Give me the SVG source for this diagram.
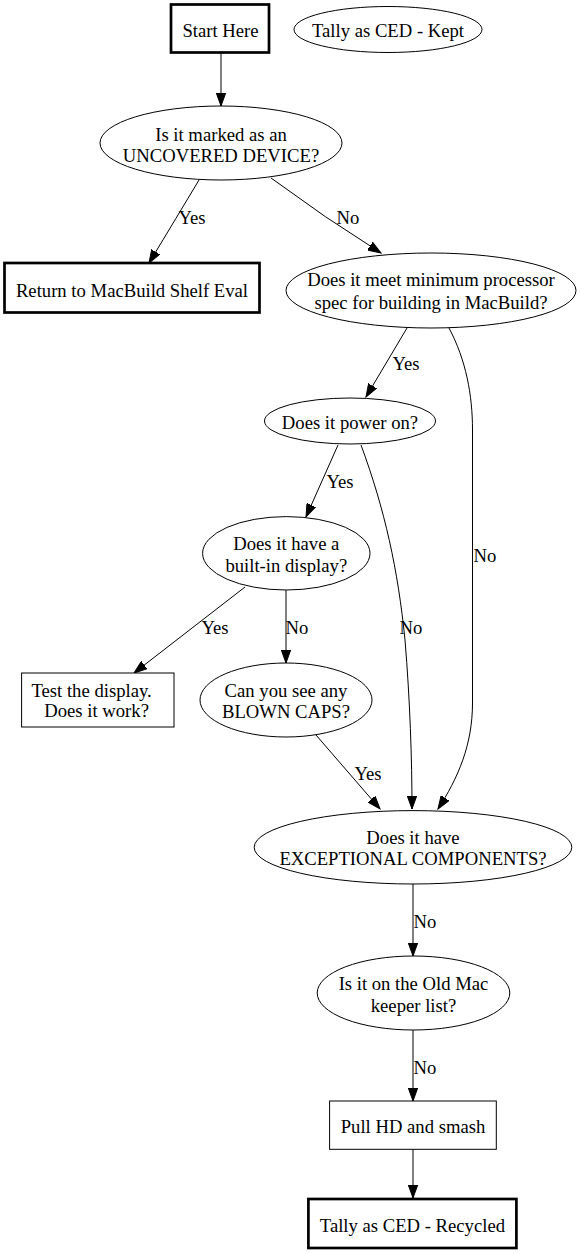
<svg xmlns="http://www.w3.org/2000/svg" width="581" height="1253" viewBox="0 0 581 1253">
<style>
text{font-family:"Liberation Serif","Times New Roman",serif;font-size:18.67px;fill:#000;text-anchor:middle}
.n{fill:#fff;stroke:#000;stroke-width:1}
.b{fill:#fff;stroke:#000;stroke-width:2.7}
.e{fill:none;stroke:#000;stroke-width:1;marker-end:url(#ah)}
</style>
<defs>
<marker id="ah" markerUnits="userSpaceOnUse" markerWidth="14" markerHeight="10" refX="13" refY="5" orient="auto">
<path d="M0,0.3 L13,5 L0,9.7 Z" fill="#000" stroke="#000" stroke-width="1"/>
</marker>
</defs>
<rect width="581" height="1253" fill="#fff"/>
<g id="edges">
<path class="e" d="M221,53 L221,106"/>
<path class="e" d="M199,180 Q178,215 149,263"/>
<text x="192" y="223.5">Yes</text>
<path class="e" d="M271,178 Q325,218 381,253"/>
<text x="348" y="223.5">No</text>
<path class="e" d="M407,328 L366,397"/>
<text x="406" y="369.5">Yes</text>
<path class="e" d="M449,328 C466,360 472.5,395 472.5,430 L472.5,703 C472.5,745 458,778 438,809"/>
<text x="485" y="561.5">No</text>
<path class="e" d="M338,445 L306,517"/>
<text x="340" y="488">Yes</text>
<path class="e" d="M361,445 C385,510 398,570 405,640 C410,700 412,760 412,809"/>
<text x="411" y="633.5">No</text>
<path class="e" d="M245,587 L134,673"/>
<text x="215" y="633.5">Yes</text>
<path class="e" d="M286,590 L286,663"/>
<text x="297" y="633.5">No</text>
<path class="e" d="M316,735 L380,809"/>
<text x="368" y="779.5">Yes</text>
<path class="e" d="M413,884 L413,956"/>
<text x="425" y="928">No</text>
<path class="e" d="M413,1030 L413,1101"/>
<text x="425" y="1074">No</text>
<path class="e" d="M413,1149 L413,1198"/>
</g>
<g id="start"><rect class="b" x="171" y="4.5" width="98" height="48"/><text x="220.5" y="37">Start Here</text></g>
<g id="kept"><ellipse class="n" cx="388" cy="29.5" rx="94" ry="23"/><text x="388" y="37">Tally as CED - Kept</text></g>
<g id="uncovered"><ellipse class="n" cx="221" cy="143" rx="121" ry="37"/><text x="221" y="140.5">Is it marked as an</text><text x="221" y="161.5">UNCOVERED DEVICE?</text></g>
<g id="return"><rect class="b" x="4.5" y="263" width="255" height="49.5"/><text x="132" y="296.5">Return to MacBuild Shelf Eval</text></g>
<g id="procspec"><ellipse class="n" cx="431" cy="290.5" rx="145" ry="37.5"/><text x="431" y="285.5">Does it meet minimum processor</text><text x="431" y="308.5">spec for building in MacBuild?</text></g>
<g id="power"><ellipse class="n" cx="350" cy="421" rx="85.5" ry="23"/><text x="350" y="428.5">Does it power on?</text></g>
<g id="display"><ellipse class="n" cx="286.3" cy="553.3" rx="83.7" ry="36.7"/><text x="286.3" y="550">Does it have a</text><text x="286.3" y="572">built-in display?</text></g>
<g id="test"><rect class="n" x="21.6" y="673" width="152.4" height="54"/><text x="91.6" y="697">Test the display.</text><text x="96.6" y="717">Does it work?</text></g>
<g id="caps"><ellipse class="n" cx="286" cy="700" rx="86" ry="37"/><text x="286" y="697">Can you see any</text><text x="286" y="718">BLOWN CAPS?</text></g>
<g id="exceptional"><ellipse class="n" cx="413" cy="847.3" rx="158.8" ry="36.7"/><text x="413" y="844">Does it have</text><text x="413" y="865">EXCEPTIONAL COMPONENTS?</text></g>
<g id="oldmac"><ellipse class="n" cx="413.5" cy="993" rx="96.3" ry="37"/><text x="413.5" y="990">Is it on the Old Mac</text><text x="413.5" y="1012">keeper list?</text></g>
<g id="pullhd"><rect class="n" x="329.6" y="1101" width="166.7" height="48.3"/><text x="413" y="1133">Pull HD and smash</text></g>
<g id="recycled"><rect class="b" x="308.4" y="1199" width="208" height="49"/><text x="412.4" y="1231.5">Tally as CED - Recycled</text></g>
</svg>
